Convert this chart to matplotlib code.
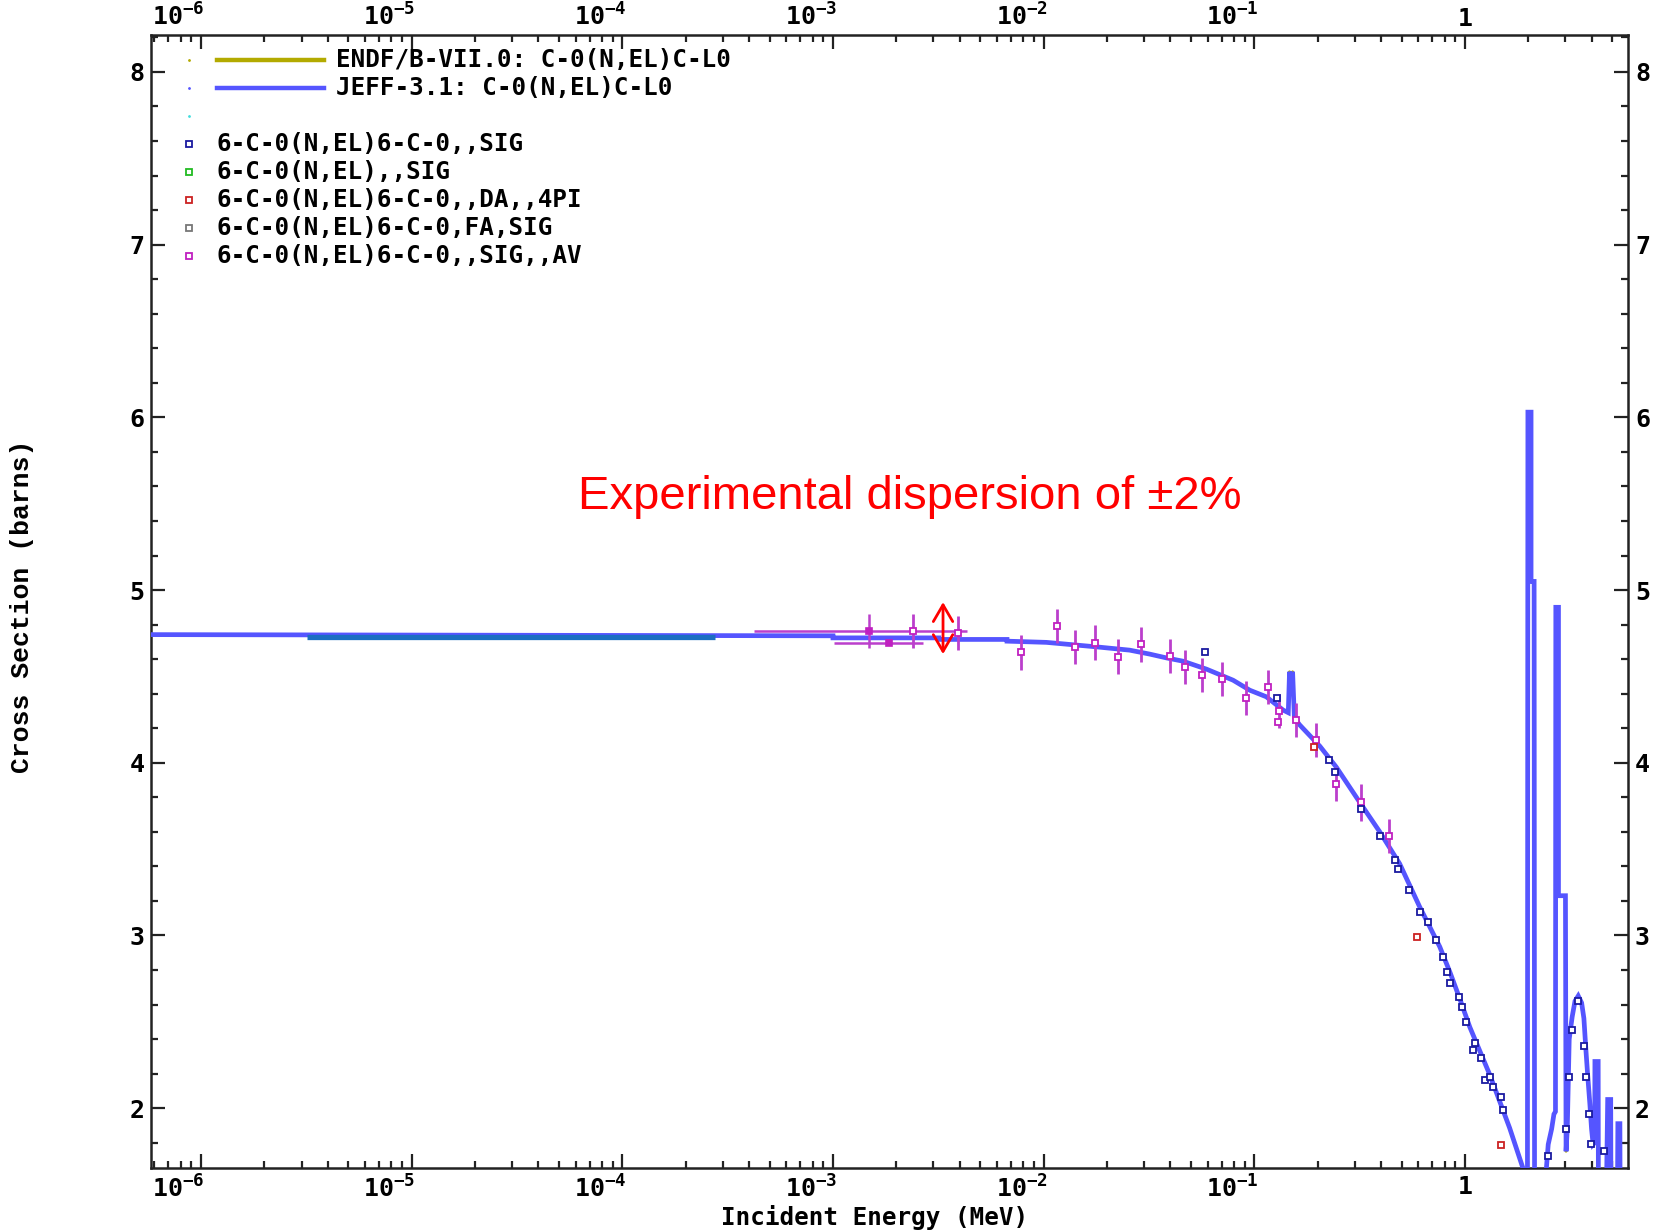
import numpy as np
import matplotlib
matplotlib.use("Agg")
import matplotlib.pyplot as plt
import matplotlib.transforms as mtransforms
from matplotlib.ticker import FixedLocator, LogLocator, MultipleLocator, NullFormatter
from matplotlib.lines import Line2D
from matplotlib.patches import FancyArrowPatch

plt.rcParams['font.family'] = ['DejaVu Sans Mono']
plt.rcParams['font.weight'] = 'bold'
plt.rcParams['mathtext.fontset'] = 'custom'
plt.rcParams['mathtext.rm'] = 'DejaVu Sans Mono:bold'
plt.rcParams['mathtext.default'] = 'rm'

# JEFF-3.1 elastic cross section, C-0 (energy in MeV, sigma in barns)
jeff_E = [5.0e-7, 1.0e-3, 1.0e-3, 3.18e-3, 3.18e-3, 6.7e-3, 6.7e-3, 0.0103, 0.0178,
          0.0256, 0.0319, 0.0383, 0.0459, 0.0593, 0.0793, 0.0952, 0.114, 0.137,
          0.145, 0.147, 0.150, 0.152, 0.155, 0.164, 0.205, 0.245, 0.317, 0.394,
          0.490, 0.610, 0.759, 0.85, 0.944, 1.054, 1.31, 1.63, 1.90, 1.98,
          1.99, 2.06, 2.06, 2.13, 2.14, 2.40, 2.485, 2.58, 2.645, 2.69,
          2.70, 2.78, 2.78, 3.00, 3.02, 3.06, 3.126, 3.23, 3.33, 3.45,
          3.58, 3.67, 3.75, 3.82, 3.92, 3.99, 4.06, 4.13, 4.14, 4.29,
          4.30, 4.70, 4.76, 4.92, 4.93, 5.30, 5.32, 5.44, 5.45, 6.2]
jeff_sig = [4.742, 4.735, 4.723, 4.723, 4.714, 4.714, 4.704, 4.697, 4.671,
            4.652, 4.629, 4.607, 4.588, 4.542, 4.478, 4.420, 4.382, 4.305,
            4.29, 4.527, 4.40, 4.527, 4.26, 4.220, 4.095, 3.975, 3.770, 3.600,
            3.415, 3.165, 2.935, 2.785, 2.635, 2.470, 2.195, 1.885, 1.64, 1.55,
            6.03, 6.03, 5.05, 5.05, 1.55, 1.55, 1.79, 1.88, 1.965, 1.98,
            4.90, 4.90, 3.23, 3.23, 1.75, 1.88, 2.40, 2.53, 2.62, 2.65,
            2.61, 2.52, 2.34, 2.20, 2.02, 1.88, 1.79, 1.80, 2.27, 2.27,
            1.55, 1.55, 2.05, 2.05, 1.55, 1.55, 1.91, 1.91, 1.55, 1.55]

# flat thermal segment
seg_E = [3.18e-6, 2.76e-4]
seg_sig = [4.727, 4.727]

# 6-C-0(N,EL)6-C-0,,SIG,,AV  (with uncertainties)
av_E = [2.39e-3, 3.94e-3, 7.80e-3, 0.01156, 0.01403, 0.0175, 0.02265, 0.0289, 0.040,
        0.0467, 0.0565, 0.0703, 0.0914, 0.1164, 0.1315, 0.1585, 0.197, 0.2455,
        0.321, 0.4357]
av_sig = [4.764, 4.752, 4.639, 4.791, 4.671, 4.696, 4.615, 4.685, 4.619,
          4.555, 4.509, 4.484, 4.374, 4.439, 4.30, 4.247, 4.131, 3.876,
          3.77, 3.575]
av_err = [0.10, 0.10, 0.10, 0.10, 0.10, 0.10, 0.10, 0.10, 0.10,
          0.10, 0.10, 0.10, 0.10, 0.10, 0.10, 0.10, 0.10, 0.10,
          0.105, 0.10]
# points with energy-resolution bars
avx_E = [1.48e-3, 1.84e-3]
avx_sig = [4.764, 4.696]
avx_yerr = [0.10, 0.0]
avx_lo = [4.21e-4, 1.01e-3]
avx_hi = [4.32e-3, 2.67e-3]
av_small_E = [0.1297]
av_small_sig = [4.233]

# 6-C-0(N,EL)6-C-0,,SIG
sig_E = [0.0581, 0.1288, 0.2262, 0.2406, 0.321, 0.396, 0.4637, 0.483, 0.541,
         0.6115, 0.665, 0.7284, 0.789, 0.824, 0.849, 0.9397, 0.9645, 1.014,
         1.094, 1.116, 1.187, 1.244, 1.314, 1.362, 1.476, 1.52,
         2.49, 3.02, 3.12, 3.24, 3.45, 3.67, 3.75, 3.88, 3.95, 4.55]
sig_sig = [4.640, 4.372, 4.015, 3.944, 3.735, 3.575, 3.436, 3.386, 3.262,
           3.135, 3.08, 2.973, 2.876, 2.789, 2.722, 2.644, 2.587, 2.496,
           2.336, 2.378, 2.288, 2.162, 2.181, 2.123, 2.065, 1.988,
           1.72, 1.88, 2.18, 2.45, 2.62, 2.36, 2.18, 1.965, 1.79, 1.75]

# 6-C-0(N,EL)6-C-0,,DA,,4PI
da_E = [0.1923, 0.590, 1.476]
da_sig = [4.094, 2.992, 1.786]

x_ticks = [1e-6, 1e-5, 1e-4, 1e-3, 1e-2, 1e-1, 1]
x_labels = ['$10^{-6}$', '$10^{-5}$', '$10^{-4}$', '$10^{-3}$', '$10^{-2}$', '$10^{-1}$', '1']
y_ticks = [2, 3, 4, 5, 6, 7, 8]
y_labels = ['2', '3', '4', '5', '6', '7', '8']

line_names = ['ENDF/B-VII.0: C-0(N,EL)C-L0', 'JEFF-3.1: C-0(N,EL)C-L0']
line_colors = ['#b3aa00', '#5555ff']
exp_names = ['6-C-0(N,EL)6-C-0,,SIG', '6-C-0(N,EL),,SIG', '6-C-0(N,EL)6-C-0,,DA,,4PI',
             '6-C-0(N,EL)6-C-0,FA,SIG', '6-C-0(N,EL)6-C-0,,SIG,,AV']
exp_colors = ['#1a1aa0', '#22bb22', '#cc2222', '#777777', '#c020c0']

blue = '#5555ff'
mag = '#c020c0'
mag_bar = '#bb3fcc'

fig = plt.figure(figsize=(16.61, 12.32), dpi=100)
ax = fig.add_axes([0.0912, 0.0519, 0.8889, 0.9197])

ax.plot(jeff_E, jeff_sig, color=line_colors[0], lw=2.0, zorder=2)
ax.plot(jeff_E, jeff_sig, color=blue, lw=3.4, zorder=3, solid_joinstyle='miter')
ax.plot(seg_E, seg_sig, color='#1b6ec2', lw=3.8, zorder=4, solid_capstyle='butt')

ax.errorbar(avx_E, avx_sig, yerr=avx_yerr,
            xerr=[np.array(avx_E) - np.array(avx_lo), np.array(avx_hi) - np.array(avx_E)],
            fmt='s', ms=4.5, mfc=mag, mec=mag, mew=1.2, ecolor=mag_bar, elinewidth=1.8,
            capsize=0, zorder=5)
ax.errorbar(av_E, av_sig, yerr=av_err, fmt='s', ms=4.5, mfc='white', mec=mag, mew=1.3,
            ecolor=mag_bar, elinewidth=2.0, capsize=0, zorder=5)
ax.plot(av_small_E, av_small_sig, 's', ms=4.5, mfc='white', mec=mag, mew=1.3, zorder=5)
ax.plot(sig_E, sig_sig, 's', ms=4.5, mfc='white', mec=exp_colors[0], mew=1.3, zorder=6)
ax.plot(da_E, da_sig, 's', ms=4.5, mfc='white', mec=exp_colors[2], mew=1.3, zorder=6)

ax.set_xscale('log')
ax.set_xlim(5.82e-7, 5.94)
ax.set_ylim(1.653, 8.214)

ax.xaxis.set_major_locator(FixedLocator(x_ticks))
ax.set_xticklabels(x_labels)
ax.xaxis.set_minor_locator(LogLocator(base=10, subs=np.arange(2, 10), numticks=20))
ax.xaxis.set_minor_formatter(NullFormatter())
ax.yaxis.set_major_locator(FixedLocator(y_ticks))
ax.set_yticklabels(y_labels)
ax.yaxis.set_minor_locator(MultipleLocator(0.2))

ax.tick_params(which='both', direction='in', top=True, right=True,
               labeltop=True, labelright=True, color='#222222', width=1.6)
ax.tick_params(which='major', length=10, labelsize=18, pad=5)
ax.tick_params(which='minor', length=5)
for s in ax.spines.values():
    s.set_linewidth(1.8)
    s.set_color('#222222')

# power-of-ten labels sit just left of their tick; top row a bit lower
shift = mtransforms.ScaledTranslation(4 / 100, 0, fig.dpi_scale_trans)
drop = mtransforms.ScaledTranslation(0, -3 / 100, fig.dpi_scale_trans)
for tick in ax.xaxis.get_major_ticks():
    tick.label2.set_transform(tick.label2.get_transform() + drop)
    for lab in (tick.label1, tick.label2):
        if lab.get_text() != '1':
            lab.set_horizontalalignment('right')
            lab.set_transform(lab.get_transform() + shift)

fig.text(0.5268, 0.0055, 'Incident Energy (MeV)', ha='center', va='baseline', fontsize=17.5)
fig.text(0.0135, 0.508, 'Cross Section (barns)', rotation=90, ha='center', va='center',
         fontsize=19, family=['Liberation Mono'], weight='bold')

# legend block
row_y = 0.978
dy = 0.02471
for name, c in zip(line_names, line_colors):
    ax.plot([0.0254], [row_y], '.', ms=2, color=c, transform=ax.transAxes, clip_on=False)
    ax.add_line(Line2D([0.0447, 0.1168], [row_y, row_y], color=c, lw=3.2,
                       transform=ax.transAxes))
    ax.text(0.125, row_y, name, transform=ax.transAxes, va='center', ha='left', fontsize=17.5)
    row_y -= dy
ax.plot([0.0254], [row_y], '.', ms=2, color='#44dddd', transform=ax.transAxes)
row_y -= dy
for name, c in zip(exp_names, exp_colors):
    ax.plot([0.0254], [row_y], 's', ms=4, mfc='white', mec=c, mew=1.3,
            transform=ax.transAxes)
    ax.text(0.0443, row_y, name, transform=ax.transAxes, va='center', ha='left', fontsize=17.5)
    row_y -= dy

ax.text(0.2889, 0.592, 'Experimental dispersion of \u00b12%', transform=ax.transAxes,
        ha='left', va='center', color='#ff0000', fontsize=34,
        family=['Liberation Sans'], weight='normal')
ax.add_patch(FancyArrowPatch((3.33e-3, 4.613), (3.33e-3, 4.946),
                             arrowstyle='<->,head_length=0.6,head_width=0.35',
                             mutation_scale=20, color='#ff0000', lw=2.0, zorder=7))

fig.savefig('out.png', dpi=100)
